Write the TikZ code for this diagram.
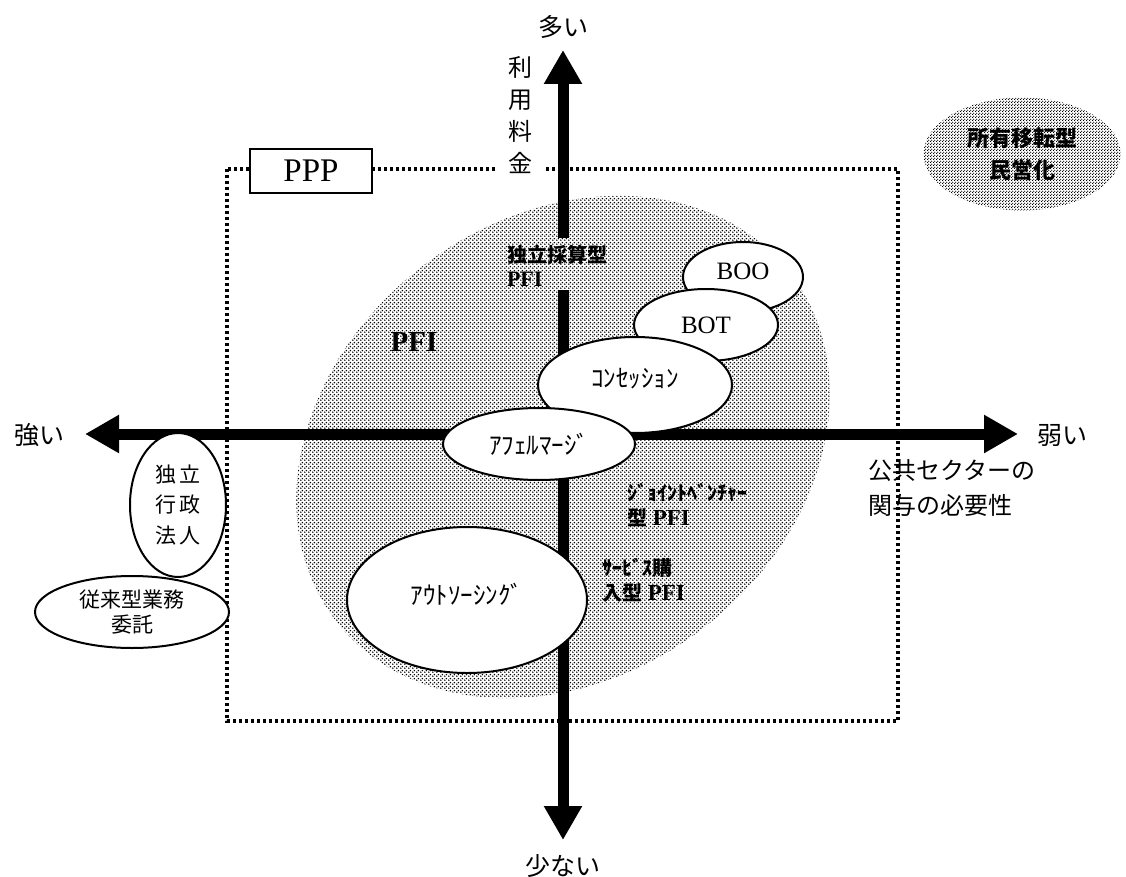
\documentclass[tikz,border=0pt]{standalone}
\usepackage{fontspec}
\setmainfont{Liberation Serif}
\newfontfamily\jp{Noto Sans CJK JP}
\usetikzlibrary{shapes.geometric,arrows.meta,patterns.meta}

\newcommand\setfs[2]{\fontsize{#1pt}{#2pt}\selectfont}

% light screen for the PFI area
\tikzdeclarepattern{
  name=stipple,
  type=uncolored,
  bottom left={(0pt,0pt)},
  top right={(4pt,4pt)},
  tile size={(4pt,4pt)},
  code={
    \pgfpathcircle{\pgfqpoint{1pt}{1pt}}{1pt}
    \pgfpathcircle{\pgfqpoint{3pt}{3pt}}{1pt}
    \pgfusepath{fill}
  }
}
% darker screen for privatisation
\tikzdeclarepattern{
  name=densestipple,
  type=uncolored,
  bottom left={(0pt,0pt)},
  top right={(3pt,3pt)},
  tile size={(3pt,3pt)},
  code={
    \pgfpathcircle{\pgfqpoint{0.75pt}{0.75pt}}{0.85pt}
    \pgfpathcircle{\pgfqpoint{2.25pt}{2.25pt}}{0.85pt}
    \pgfusepath{fill}
  }
}

\tikzset{
  frame/.style={line width=4pt, dash pattern=on 3.2pt off 2.8pt},
  area/.style={ellipse, draw=none, inner sep=0pt},
  axis/.style={line width=11pt, >={Triangle[length=34pt,width=36pt]}},
  bubble/.style={ellipse, draw, line width=2pt, fill=white, inner sep=0pt,
                 align=center, font=\jp\setfs{25}{30}},
  jplabel/.style={font=\jp\setfs{25}{30}, align=center},
  boldlabel/.style={font=\bfseries\setfs{23}{25}, align=left, anchor=west}
}

\begin{document}
\begin{tikzpicture}[x=1pt, y=-1pt, every node/.style={inner sep=0pt, outer sep=0pt}]
\useasboundingbox (0,0) rectangle (1126,877);

% PPP frame
\draw[frame] (227,169) rectangle (898,721);

% screened areas
\node[area, pattern=stipple, pattern color=black,
      minimum width=572pt, minimum height=458pt, rotate=37] (pfiarea) at (563,447) {};
\node[area, pattern=densestipple, pattern color=black,
      minimum width=197pt, minimum height=113pt,
      font=\jp\bfseries\setfs{22}{32}, align=center] (privatize) at (1022,154) {所有移転型\\民営化};

% vertical axis caption, blanking the frame behind it
\node[jplabel, fill=white, inner xsep=13pt, inner ysep=1pt,
      font=\jp\setfs{24}{32}] (fee) at (520,115) {利\\用\\料\\金};

% PPP tag
\node[draw, line width=2pt, fill=white, minimum width=122pt, minimum height=44pt,
      font=\setfs{33}{36}] (ppp) at (311,171) {PPP};

% axes
\coordinate (xl) at (85,434);
\coordinate (xr) at (1018,434);
\coordinate (yt) at (563,50);
\coordinate (yb) at (563,840);
\coordinate (ygapA) at (563,238);
\coordinate (ygapB) at (563,290);
\draw[axis, <->] (xl) -- (xr);
\draw[axis, ->] (ygapA) -- (yt);
\draw[axis, ->] (ygapB) -- (yb);

% schemes
\node[bubble, minimum width=120pt, minimum height=70pt, font=\setfs{25}{30}, text depth=12pt] (boo) at (743,277) {BOO};
\node[bubble, minimum width=144pt, minimum height=72pt, font=\setfs{25}{30}] (bot) at (706,325) {BOT};
\node[bubble, minimum width=194pt, minimum height=96pt, text depth=14pt] (con) at (635,385) {ｺﾝｾｯｼｮﾝ};
\node[bubble, minimum width=192pt, minimum height=72pt] (aff) at (539,444) {ｱﾌｪﾙﾏｰｼﾞ};
\node[bubble, minimum width=240pt, minimum height=146pt, text depth=12pt] (out) at (467,600) {ｱｳﾄｿｰｼﾝｸﾞ};
\node[bubble, minimum width=96pt, minimum height=144pt, font=\jp\setfs{21}{30.5}] (agency) at (178,505)
     {独\hspace{4pt}立\\行\hspace{4pt}政\\法\hspace{4pt}人};
\node[bubble, minimum width=194pt, minimum height=72pt, font=\jp\setfs{21}{25}] (contract) at (132,612)
     {従来型業務\\委託};

% axis end labels
\node[jplabel] (many) at (563,27) {多い};
\node[jplabel] (few) at (563,866) {少ない};
\node[jplabel] (strong) at (39,435) {強い};
\node[jplabel] (weak) at (1062,435) {弱い};
\node[jplabel, align=left, anchor=west, font=\jp\setfs{24}{35}] (need) at (868,488)
     {公共セクターの\\関与の必要性};

% PFI types
\newcommand\jpb[1]{{\jp\setfs{20}{25}#1}}
\node[font=\bfseries\setfs{29}{32}] (pfi) at (414,342) {PFI};
\node[boldlabel, font=\bfseries\setfs{22}{24}] (selffund) at (507,266) {\jpb{独立採算型}\\PFI};
\node[boldlabel] (jv) at (627,505) {\jpb{ｼﾞｮｲﾝﾄﾍﾞﾝﾁｬｰ}\\\jpb{型} PFI};
\node[boldlabel] (svc) at (602,580) {\jpb{ｻｰﾋﾞｽ購}\\\jpb{入型} PFI};
\end{tikzpicture}
\end{document}
